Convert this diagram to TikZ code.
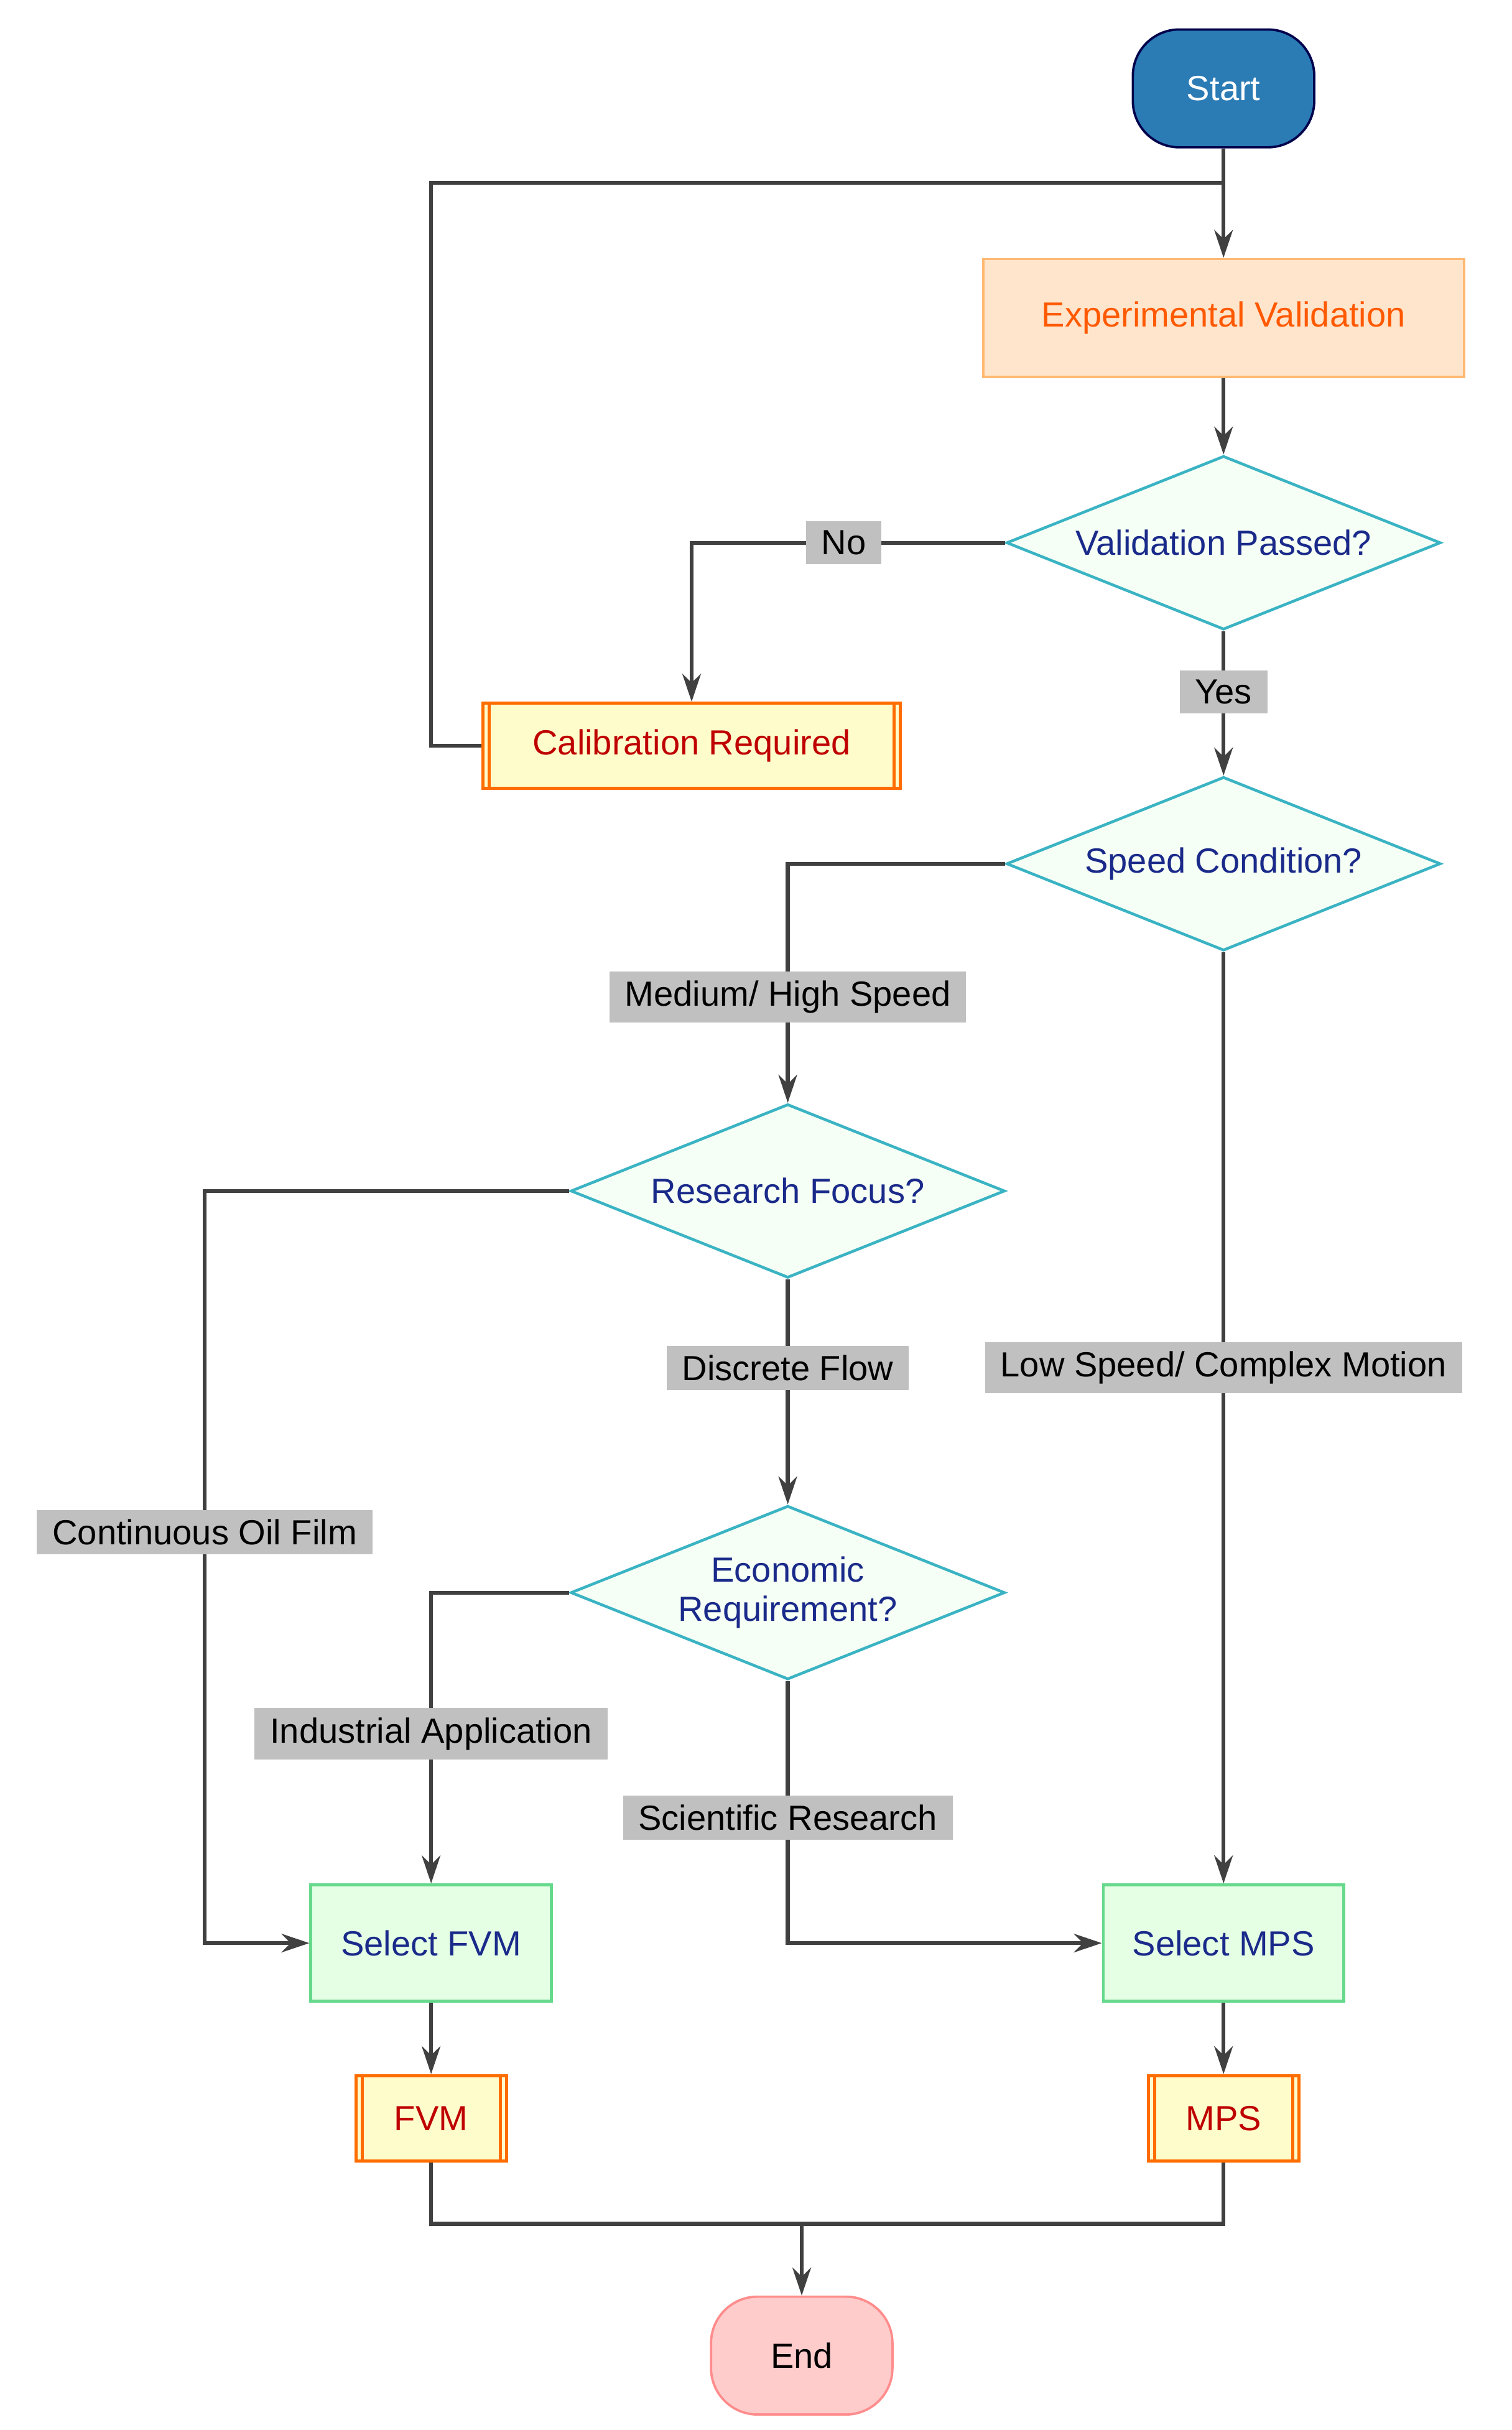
\documentclass[tikz,border=0pt]{standalone}
\usepackage{fontspec}
\setmainfont{Liberation Sans}
\usetikzlibrary{shapes.geometric,arrows.meta,calc}
\definecolor{ln}{HTML}{404040}
\definecolor{lbl}{HTML}{C0C0C0}
\definecolor{dblue}{HTML}{1A2A8A}
\definecolor{dia}{HTML}{3AB3C3}
\definecolor{startc}{HTML}{2B7BB5}
\tikzset{
 every node/.style={font=\fontsize{22.5}{27}\selectfont},
 term/.style={rounded corners=30pt,minimum width=117pt,minimum height=76pt,line width=1.5pt},
 proc/.style={rectangle,minimum height=76pt,line width=1.5pt},
 dec/.style={diamond,aspect=2.5,minimum width=280pt,minimum height=112pt,inner sep=0pt,fill=green!4,draw=dia,line width=1.8pt,text=dblue,align=center},
 pre/.style={rectangle,fill=yellow!20,draw=orange!85!red,line width=2pt,minimum height=55pt,text=red!75!black},
 sel/.style={rectangle,fill=green!10,draw=teal!50!green!60,line width=2pt,minimum width=155pt,minimum height=75pt,text=dblue},
 lab/.style={fill=lbl,inner xsep=10pt,inner ysep=6pt,text=black},
 con/.style={draw=ln,line width=2.5pt,-{Stealth[length=18pt,width=12pt]}},
 con0/.style={draw=ln,line width=2.5pt},
}
\newcommand{\predef}[1]{\draw[orange!85!red,line width=2pt] ($(#1.north west)+(5pt,0)$)--($(#1.south west)+(5pt,0)$) ($(#1.north east)+(-5pt,0)$)--($(#1.south east)+(-5pt,0)$);}
\begin{document}
\begin{tikzpicture}[x=1pt,y=-1pt]
\useasboundingbox (0,0) rectangle (975,1567);
\node[term,fill=startc,draw=blue!30!black,text=white] (start) at (789,57) {Start};
\node[proc,minimum width=310pt,fill=orange!20,draw=orange!55,text=orange!70!red] (exp) at (789,205) {Experimental Validation};
\node[dec] (val) at (789,350) {Validation Passed?};
\node[pre,minimum width=269pt] (cal) at (446,481) {Calibration Required};
\predef{cal}
\node[dec] (spd) at (789,557) {Speed Condition?};
\node[dec] (res) at (508,768) {Research Focus?};
\node[dec] (eco) at (508,1027) {Economic\\[-2pt]Requirement?};
\node[sel] (sfvm) at (278,1253) {Select FVM};
\node[sel] (smps) at (789,1253) {Select MPS};
\node[pre,minimum width=97pt] (fvm) at (278,1366) {FVM};
\predef{fvm}
\node[pre,minimum width=97pt] (mps) at (789,1366) {MPS};
\predef{mps}
\node[term,fill=red!20,draw=red!45,text=black] (end) at (517,1519) {End};

\coordinate (j1) at (789,118);
\draw[con] (start) -- (exp);
\draw[con0] (j1) -- (278,118) -- (278,481) -- (cal.west);
\draw[con] (exp) -- (val);
\draw[con] (val.west) -- (446,350) -- (cal.north);
\node[lab] at (544,350) {No};
\draw[con] (val.south) -- (spd.north);
\node[lab] at (789,446) {Yes};
\draw[con] (spd.west) -- (508,557) -- (res.north);
\node[lab] at (508,643) {Medium/ High Speed};
\draw[con] (res.west) -- (132,768) -- (132,1253) -- (sfvm.west);
\node[lab] at (132,988) {Continuous Oil Film};
\draw[con] (res.south) -- (eco.north);
\node[lab] at (508,882) {Discrete Flow};
\draw[con] (eco.west) -- (278,1027) -- (sfvm.north);
\node[lab] at (278,1118) {Industrial Application};
\draw[con] (eco.south) -- (508,1253) -- (smps.west);
\node[lab] at (508,1172) {Scientific Research};
\draw[con] (spd.south) -- (smps.north);
\node[lab] at (789,882) {Low Speed/ Complex Motion};
\draw[con] (sfvm) -- (fvm);
\draw[con] (smps) -- (mps);
\coordinate (j2) at (517,1434);
\draw[con0] (fvm.south) -- (278,1434) -- (789,1434) -- (mps.south);
\draw[con] (j2) -- (end.north);
\end{tikzpicture}
\end{document}
